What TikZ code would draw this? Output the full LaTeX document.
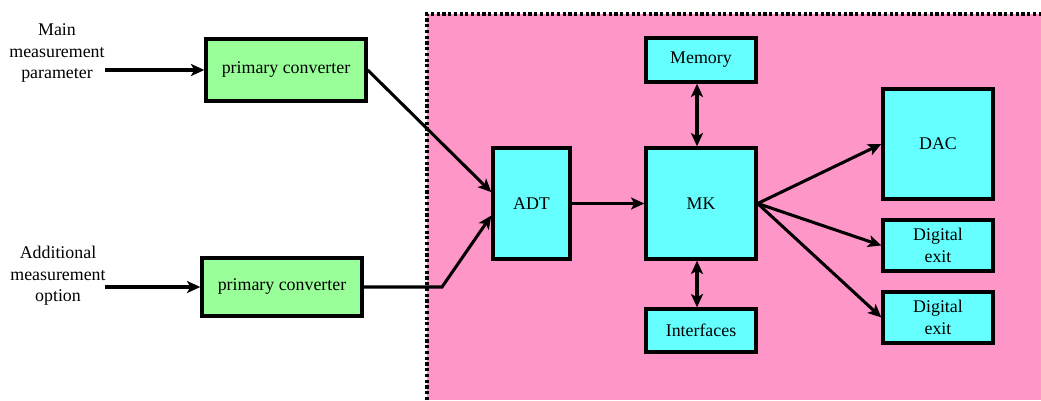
\documentclass[tikz,border=0pt]{standalone}
\usepackage{fontspec}
\setmainfont{Liberation Serif}
\usetikzlibrary{arrows.meta}
\definecolor{panelpink}{HTML}{FF96C8}
\definecolor{convgreen}{HTML}{99FF99}
\definecolor{unitcyan}{HTML}{66FFFF}
\begin{document}
\begin{tikzpicture}[x=0.75pt,y=-0.75pt,
  font=\fontsize{13.4pt}{16pt}\selectfont,
  wire/.style={line width=2.3pt,line join=miter,-{Stealth[length=10pt,width=9pt,inset=2.5pt]}},
  twoway/.style={line width=2.3pt,{Stealth[length=10pt,width=9pt,inset=2.5pt]}-{Stealth[length=10pt,width=9pt,inset=2.5pt]}},
  blockbox/.style={draw,line width=2.5pt,rectangle,inner sep=0pt,align=center},
  conv/.style={blockbox,fill=convgreen,minimum width=120pt},
  unit/.style={blockbox,fill=unitcyan}]
\useasboundingbox (0,0) rectangle (1041,400);

% controller panel
\fill[panelpink] (427,14) rectangle (1041,400);
\draw[line width=2.5pt,dash pattern=on 2.4pt off 1.9pt] (427,400) -- (427,14) -- (1041,14);

% measurement inputs
\node[align=center] (lmain) at (57,53) {Main\\measurement\\parameter};
\node[align=center] (ladd) at (58,276) {Additional\\measurement\\option};
\coordinate (in1) at (105,70);
\coordinate (in2) at (105,287);

% primary converters
\node[conv,minimum height=46.5pt] (pc1) at (286,70) {primary converter};
\node[conv,minimum height=43.5pt] (pc2) at (282,287) {primary converter};

% processing units
\node[unit,minimum width=57.75pt,minimum height=83.25pt] (adt) at (531.5,203.5) {ADT};
\node[unit,minimum width=82.5pt,minimum height=83.25pt] (mk) at (701,203.5) {MK};
\node[unit,minimum width=82.5pt,minimum height=33pt] (mem) at (701,60) {Memory};
\node[unit,minimum width=82.5pt,minimum height=32.25pt] (ifc) at (701,330.5) {Interfaces};
\node[unit,minimum width=82.5pt,minimum height=82.5pt] (dac) at (938,144) {DAC};
\node[unit,minimum width=82.5pt,minimum height=38.25pt] (de1) at (938,245.5) {Digital\\exit};
\node[unit,minimum width=82.5pt,minimum height=38.25pt] (de2) at (938,317.5) {Digital\\exit};

\coordinate (bend) at (442,287);

% connections
\draw[wire] (in1) -- (pc1.west);
\draw[wire] (in2) -- (pc2.west);
\draw[wire] (pc1.east) -- ([yshift=8.5pt]adt.west);
\draw[wire] (pc2.east) -- (bend) -- ([yshift=-9pt]adt.west);
\draw[wire] (adt.east) -- (mk.west);
\draw[twoway] ([xshift=-3pt]mem.south) -- ([xshift=-3pt]mk.north);
\draw[twoway] ([xshift=-3pt]mk.south) -- ([xshift=-3pt]ifc.north);
\draw[wire] (mk.east) -- (dac.west);
\draw[wire] (mk.east) -- (de1.west);
\draw[wire] (mk.east) -- (de2.west);
\end{tikzpicture}
\end{document}
